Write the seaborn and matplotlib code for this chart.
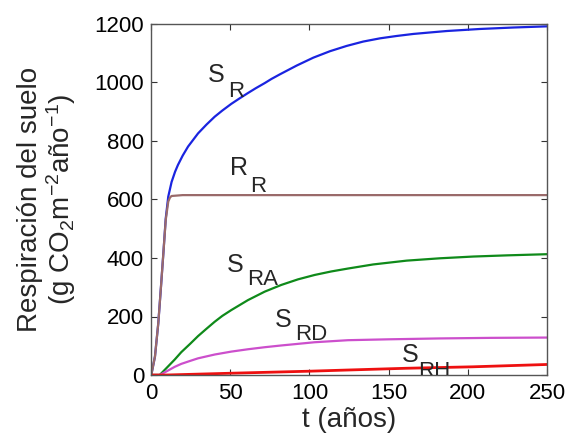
import matplotlib
matplotlib.use("Agg")
import matplotlib.pyplot as plt
import seaborn as sns
import pandas as pd

# ---- data ----
t_RR = [0, 0.4, 2.5, 4.6, 6.3, 7.8, 9.3, 10.9, 12, 13, 20, 50, 100, 150, 200, 250]
RR = [0, 6, 63, 177, 302, 416, 530, 593, 607, 612, 615, 615, 615, 615, 615, 615]

t_SR = [0, 0.4, 2.5, 4.6, 6.3, 7.8, 9.3, 10.9, 13, 15.2, 17, 20, 23.4, 29.7, 35, 40.2, 45,
        50.7, 56, 61.2, 66, 71.8, 76, 81.4, 92, 102.5, 113, 123.5, 134, 144.6, 155, 165.6, 176,
        186.7, 207.7, 228.7, 250]
SR = [0, 6, 63, 177, 302, 416, 535, 610, 660, 695, 718, 750, 781, 826, 856, 883, 904,
      927, 946, 964, 980, 998, 1012, 1028, 1058, 1085, 1107, 1125, 1140, 1151, 1159, 1166, 1171,
      1176, 1183, 1188, 1192]

t_SRA = [0, 5.5, 10, 15, 19.1, 24.6, 29.7, 35, 40.2, 45, 50.7, 61.2, 71.8, 82.3, 92.8,
         103.3, 113.8, 124.4, 140.3, 161.4, 182.4, 203.5, 224.6, 250]
SRA = [0, 0, 25, 53, 78, 106, 133, 158, 182, 202, 222, 256, 285, 308, 327,
       342, 354, 364, 378, 391, 399, 405, 409, 413]

t_SRD = [0, 5.5, 10, 15, 19.1, 24.6, 29.7, 40.2, 50.7, 61.2, 71.8, 82.3, 103.3, 124.4,
         150, 182, 215, 250]
SRD = [0, 0, 13, 28, 38, 48, 57, 70, 80, 88, 95, 101, 112, 119,
       122, 125, 127, 128]

t_SRH = [0, 10, 50, 100, 124, 161, 203, 250]
SRH = [0, 0, 6, 13, 17, 23, 28, 36]

x_ticks = [0, 50, 100, 150, 200, 250]
y_ticks = [0, 200, 400, 600, 800, 1000, 1200]

sns.set_style("white")
plt.rcParams["font.family"] = ["Liberation Sans", "DejaVu Sans"]
plt.rcParams["mathtext.fontset"] = "custom"
plt.rcParams["mathtext.rm"] = "Liberation Sans"
plt.rcParams["mathtext.it"] = "Liberation Sans"

fig = plt.figure(figsize=(5.69, 4.33), dpi=100)
ax = fig.add_axes([151/569, 1-375/433, 396/569, 351/433])

series = [
    (t_SR, SR, "#1a24e0", 1.6),
    (t_RR, RR, "#9a6a6a", 1.6),
    (t_SRA, SRA, "#0f8a1a", 1.6),
    (t_SRD, SRD, "#cc4fcc", 1.6),
    (t_SRH, SRH, "#ee1010", 2.0),
]
for t, v, c, lw in series:
    df = pd.DataFrame({"t": t, "v": v})
    sns.lineplot(data=df, x="t", y="v", ax=ax, color=c, linewidth=lw)

ax.set_xlim(0, 250)
ax.set_ylim(0, 1200)
ax.set_xticks(x_ticks)
ax.set_yticks(y_ticks)
ax.tick_params(direction="in", length=4, width=0.8, labelsize=16, colors="#333333",
               top=True, right=True, bottom=True, left=True, labelcolor="black")
ax.tick_params(axis="x", pad=6)
ax.tick_params(axis="y", pad=5)
for s in ax.spines.values():
    s.set_visible(True)
    s.set_color("#555555")
    s.set_linewidth(1.0)

ax.set_xlabel("t (años)", fontsize=20)
ax.xaxis.set_label_coords(0.5, -0.09, transform=ax.transAxes)
ax.xaxis.label.set_va("top")
ax.set_ylabel("Respiración del suelo\n(g CO$_\\mathregular{2}$m$^\\mathregular{-2}$año$^\\mathregular{-1}$)",
              fontsize=20, linespacing=1.05)
ax.yaxis.set_label_coords(-0.185, 0.5, transform=ax.transAxes)

# curve labels: main letter + big subscript
labels = [
    ("S", "R", 36, 1002, 48.6, 950),
    ("R", "R", 49.9, 684, 62.5, 626),
    ("S", "RA", 48, 352, 60.6, 308),
    ("S", "RD", 78.3, 164, 90.9, 120),
    ("S", "RH", 158.5, 44, 168.6, -7),
]
for main, sub, x1, y1, x2, y2 in labels:
    ax.text(x1, y1, main, fontsize=18, ha="left", va="baseline")
    ax.text(x2, y2, sub, fontsize=16, ha="left", va="baseline", clip_on=True)

fig.savefig("out.png", dpi=100)
